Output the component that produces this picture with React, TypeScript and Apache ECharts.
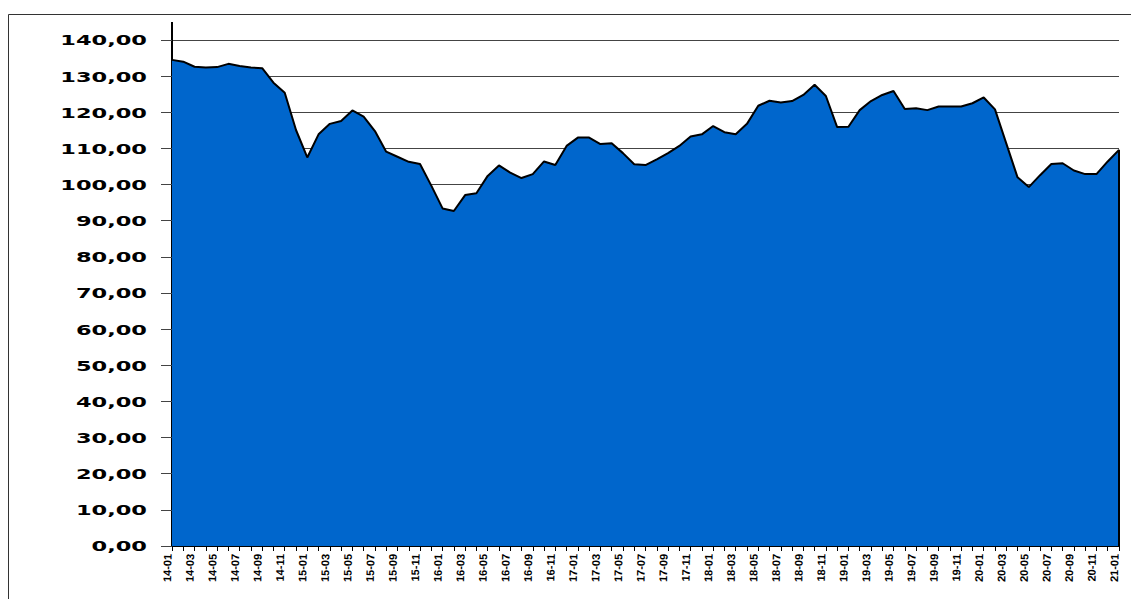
import React, { useEffect, useRef } from "react";
import * as echarts from "echarts";

const startYear = 14;
const startMonth = 1;
const monthCount = 85;

const values: number[] = [
  134.5, 134.0, 132.6, 132.4, 132.5, 133.4, 132.8, 132.4, 132.2, 128.2, 125.4, 115.1,
  107.5, 113.9, 116.8, 117.6, 120.5, 118.8, 114.8, 109.1, 107.7, 106.3, 105.7, 99.7,
  93.4, 92.7, 97.1, 97.6, 102.4, 105.3, 103.3, 101.8, 102.9, 106.4, 105.4, 110.7,
  113.0, 113.0, 111.2, 111.4, 108.7, 105.6, 105.4, 107.0, 108.7, 110.7, 113.3, 113.9,
  116.2, 114.5, 113.9, 116.8, 121.8, 123.2, 122.7, 123.1, 124.8, 127.6, 124.5, 115.9,
  116.0, 120.6, 123.1, 124.8, 125.9, 120.9, 121.1, 120.6, 121.6, 121.6, 121.6, 122.5,
  124.1, 120.8, 111.4, 102.0, 99.3, 102.6, 105.7, 105.9, 103.9, 102.9, 102.9, 106.4,
  109.6,
];

const yTicks: number[] = [0, 10, 20, 30, 40, 50, 60, 70, 80, 90, 100, 110, 120, 130, 140];

const categories: string[] = [];
for (let i = 0; i < monthCount; i++) {
  const m0 = startMonth - 1 + i;
  const y = startYear + Math.floor(m0 / 12);
  const m = (m0 % 12) + 1;
  categories.push(`${y}-${m < 10 ? "0" + m : m}`);
}

const fmt = (v: number) => v.toFixed(2).replace(".", ",");

export default function App() {
  const ref = useRef<HTMLDivElement>(null);

  useEffect(() => {
    document.body.style.margin = "0";
    document.body.style.overflow = "hidden";
    if (!ref.current) return;
    const chart = echarts.init(ref.current, undefined, { renderer: "svg" });
    const lastIdx = values.length - 1;

    chart.setOption({
      animation: false,
      backgroundColor: "#ffffff",
      grid: { left: 172, right: 18, top: 40, bottom: 53, containLabel: false },
      xAxis: {
        type: "category",
        data: categories,
        boundaryGap: false,
        axisLine: { show: true, lineStyle: { color: "#000", width: 2 } },
        axisTick: { show: true, interval: 0, length: 5, lineStyle: { color: "#000", width: 1 } },
        axisLabel: { show: false },
        splitLine: { show: false },
      },
      yAxis: {
        type: "value",
        min: 0,
        max: 140,
        interval: 10,
        axisLine: { show: true, lineStyle: { color: "#000", width: 2 } },
        axisTick: { show: true, length: 11, lineStyle: { color: "#444", width: 1 } },
        axisLabel: { show: false },
        splitLine: { show: true, lineStyle: { color: "#444", width: 1 } },
      },
      series: [
        {
          type: "line",
          data: values,
          symbol: "none",
          smooth: false,
          lineStyle: { color: "#000", width: 2 },
          areaStyle: { color: "#0066CC", opacity: 1 },
          markLine: {
            silent: true,
            symbol: ["none", "none"],
            label: { show: false },
            lineStyle: { color: "#000", width: 2, type: "solid" },
            data: [[{ coord: [categories[lastIdx], 0] }, { coord: [categories[lastIdx], values[lastIdx]] }]],
          },
        },
      ],
    });

    const axisX = chart.convertToPixel({ xAxisIndex: 0 }, categories[0]) as number;
    const topY = chart.convertToPixel({ yAxisIndex: 0 }, yTicks[yTicks.length - 1]) as number;
    const zeroY = chart.convertToPixel({ yAxisIndex: 0 }, 0) as number;

    const yLabelEls = yTicks.map((v) => ({
      type: "text",
      x: 147,
      y: chart.convertToPixel({ yAxisIndex: 0 }, v) as number,
      scaleX: 1.55,
      z: 50,
      silent: true,
      style: {
        text: fmt(v),
        fill: "#000",
        fontSize: 14.5,
        fontWeight: "bold",
        fontFamily: "DejaVu Sans",
        align: "right",
        textAlign: "right",
        verticalAlign: "middle",
        textVerticalAlign: "middle",
      },
    }));

    const xLabelEls = categories
      .map((c, i) => ({ c, i }))
      .filter((d) => d.i % 2 === 0)
      .map((d) => ({
        type: "group",
        x: (chart.convertToPixel({ xAxisIndex: 0 }, d.c) as number) + 1,
        y: zeroY + 8,
        rotation: Math.PI / 2 - 0.02,
        z: 50,
        silent: true,
        children: [
          {
            type: "text",
            x: 0,
            y: 0,
            z: 50,
            silent: true,
            style: {
              text: d.c,
              fill: "#000",
              fontSize: 11,
              fontWeight: "bold",
              fontFamily: "Liberation Sans",
              align: "right",
              textAlign: "right",
              verticalAlign: "bottom",
              textVerticalAlign: "bottom",
            },
          },
        ],
      }));

    chart.setOption({
      graphic: [
        {
          type: "line",
          silent: true,
          z: 50,
          shape: { x1: 8.5, y1: 14.5, x2: 1131, y2: 14.5 },
          style: { stroke: "#333", lineWidth: 1 },
        },
        {
          type: "line",
          silent: true,
          z: 50,
          shape: { x1: 8.5, y1: 14.5, x2: 8.5, y2: 599 },
          style: { stroke: "#333", lineWidth: 1 },
        },
        {
          type: "line",
          silent: true,
          z: 50,
          shape: { x1: axisX, y1: 22, x2: axisX, y2: topY },
          style: { stroke: "#000", lineWidth: 2 },
        },
        ...yLabelEls,
        ...xLabelEls,
      ],
    });

    return () => {
      chart.dispose();
    };
  }, []);

  return <div ref={ref} style={{ width: 1137, height: 599 }} />;
}
